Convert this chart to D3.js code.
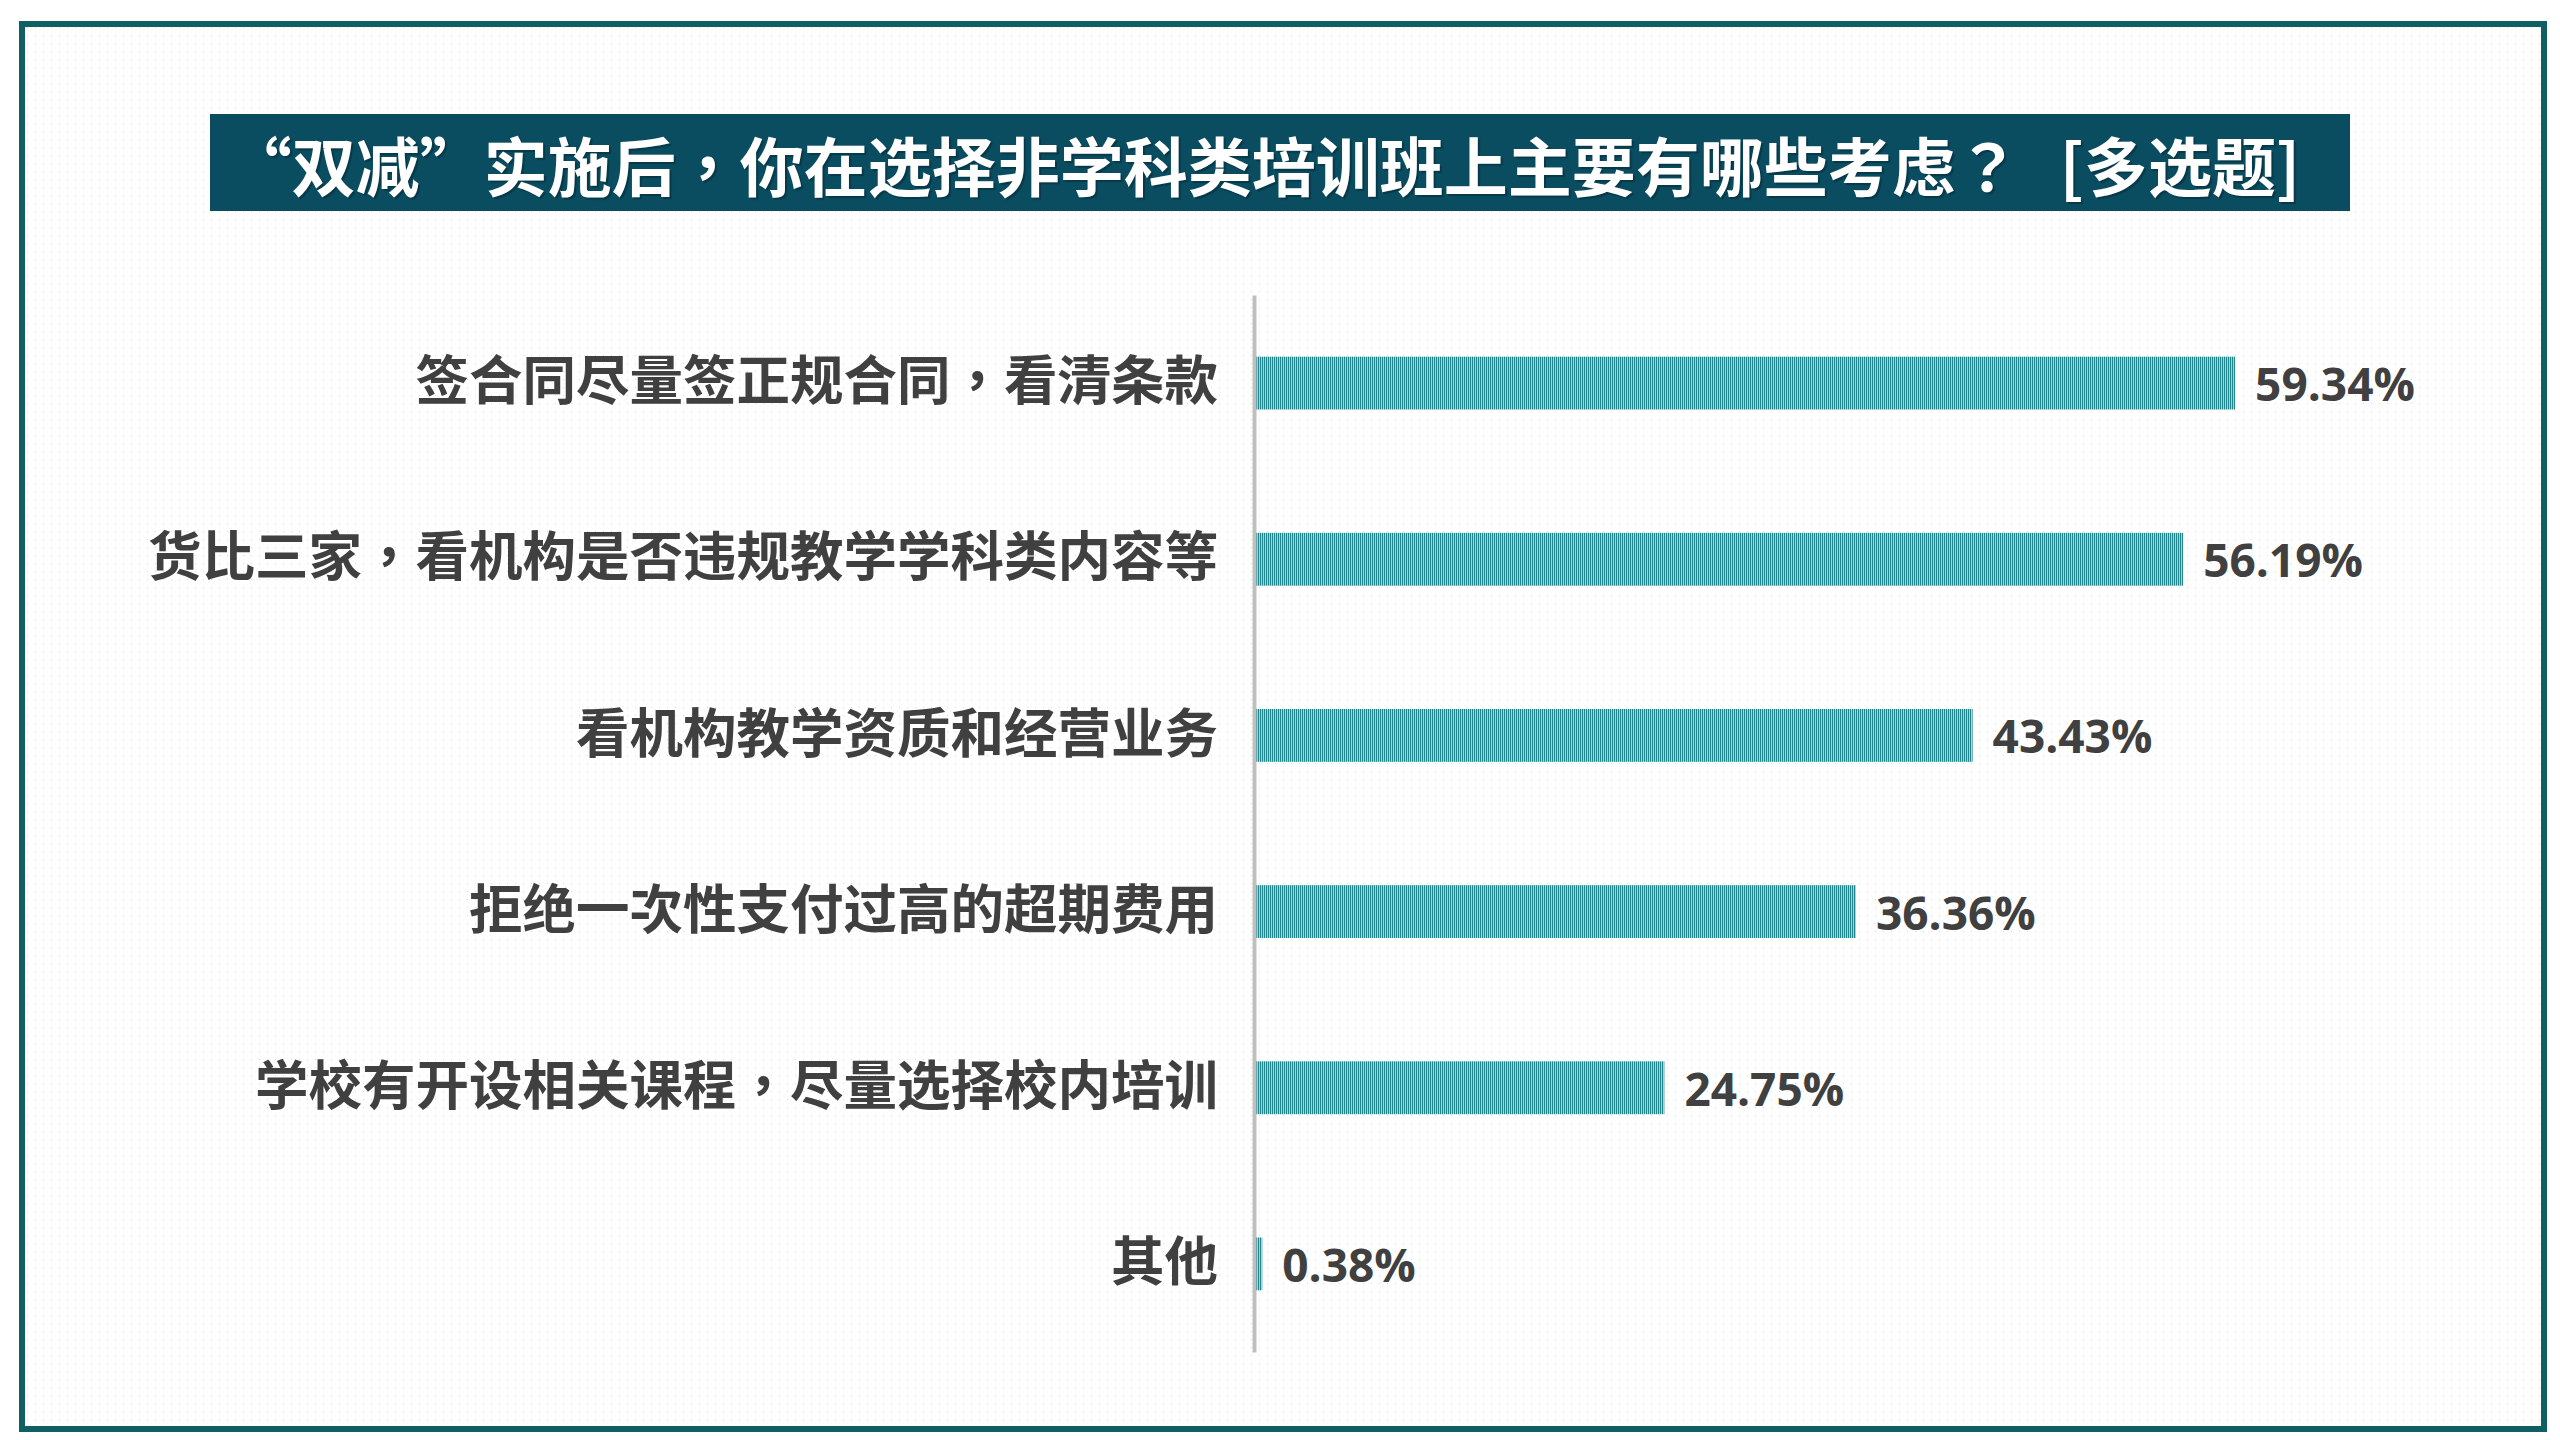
<!DOCTYPE html>
<html>
<head>
<meta charset="utf-8">
<script src="https://cdn.jsdelivr.net/npm/d3@7"></script>
<style>
  html, body { margin: 0; padding: 0; background: #ffffff; }
  svg { display: block; }
</style>
</head>
<body>
<svg id="chart" width="2560" height="1440"></svg>
<script>
const titleMain = "“双减”实施后，你在选择非学科类培训班上主要有哪些考虑？";
const titleTag = "[多选题]";
const categories = [
  "签合同尽量签正规合同，看清条款",
  "货比三家，看机构是否违规教学学科类内容等",
  "看机构教学资质和经营业务",
  "拒绝一次性支付过高的超期费用",
  "学校有开设相关课程，尽量选择校内培训",
  "其他"
];
const values = [59.34, 56.19, 43.43, 36.36, 24.75, 0.38];
const valueLabels = ["59.34%", "56.19%", "43.43%", "36.36%", "24.75%", "0.38%"];

const svg = d3.select("#chart");
const defs = svg.append("defs");

// dotted background
const dots = defs.append("pattern").attr("id", "dots")
  .attr("patternUnits", "userSpaceOnUse").attr("width", 8).attr("height", 8);
dots.append("rect").attr("width", 8).attr("height", 8).attr("fill", "#ffffff");
dots.append("rect").attr("x", 3).attr("y", 3).attr("width", 1).attr("height", 1).attr("fill", "#c6e0df");

// striped bar fill
const stripes = defs.append("pattern").attr("id", "stripes")
  .attr("patternUnits", "userSpaceOnUse").attr("width", 2).attr("height", 8);
stripes.append("rect").attr("width", 2).attr("height", 8).attr("fill", "#9fd6d8");
stripes.append("rect").attr("width", 1).attr("height", 8).attr("fill", "#22868e");

svg.append("rect").attr("width", 2560).attr("height", 1440).attr("fill", "#ffffff");
svg.append("rect")
  .attr("x", 22).attr("y", 24).attr("width", 2522).attr("height", 1405)
  .attr("fill", "url(#dots)")
  .attr("stroke", "#0f5f63").attr("stroke-width", 6);

// title
svg.append("rect").attr("x", 210).attr("y", 114).attr("width", 2140).attr("height", 97)
  .attr("fill", "#0a4c60");
const title = svg.append("text")
  .attr("x", 1264).attr("y", 163)
  .attr("text-anchor", "middle").attr("dominant-baseline", "central")
  .attr("font-family", "'Noto Sans CJK TC', 'Noto Sans CJK SC', sans-serif")
  .attr("font-weight", "bold").attr("font-size", 64)
  .attr("fill", "#ffffff")
  .style("text-shadow", "2px 2px 1px rgba(0,0,0,0.25)");
title.append("tspan").text(titleMain);
title.append("tspan").attr("dx", 40).text(titleTag);

// scales
const x = d3.scaleLinear().domain([0, 60]).range([1256, 2246]);
const y = d3.scaleBand().domain(categories).range([295, 1352])
  .paddingInner(0.7).paddingOuter(0.35);

// bars
svg.append("g").selectAll("rect").data(values).join("rect")
  .attr("x", x(0))
  .attr("y", (d, i) => y(categories[i]))
  .attr("width", d => x(d) - x(0))
  .attr("height", y.bandwidth())
  .attr("fill", "url(#stripes)");

// axis (left, no ticks)
const yAxis = d3.axisLeft(y).tickSize(0).tickPadding(36);
const gAxis = svg.append("g").attr("transform", `translate(${x(0) - 2},0)`).call(yAxis);
gAxis.select(".domain").attr("stroke", "#bfbfbf").attr("stroke-width", 4);
gAxis.selectAll(".tick text")
  .attr("font-family", "'Noto Sans CJK TC', 'Noto Sans CJK SC', sans-serif")
  .attr("font-weight", "bold").attr("font-size", 53.5)
  .attr("fill", "#404040");

// value labels
svg.append("g").selectAll("text").data(values).join("text")
  .attr("x", d => x(d) + 20)
  .attr("y", (d, i) => y(categories[i]) + y.bandwidth() / 2)
  .attr("dominant-baseline", "central")
  .attr("font-family", "'Open Sans', sans-serif")
  .attr("font-weight", "bold").attr("font-size", 46)
  .attr("fill", "#404040")
  .text((d, i) => valueLabels[i]);
</script>
</body>
</html>
